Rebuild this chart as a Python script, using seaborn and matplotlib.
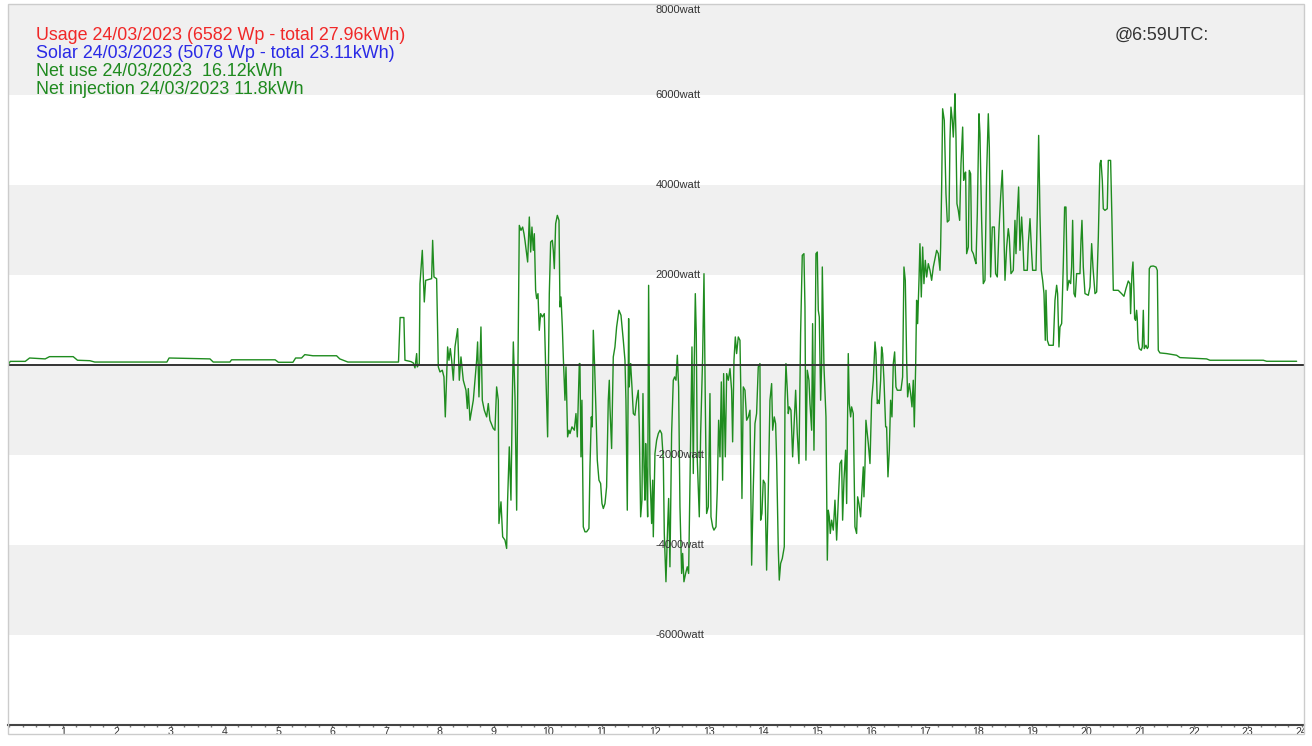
import numpy as np
import pandas as pd
import matplotlib
matplotlib.use("Agg")
import matplotlib.pyplot as plt
from matplotlib.patches import Rectangle
from matplotlib.transforms import Bbox, TransformedBbox
import seaborn as sns

# ---------------- data (hour of day, net power in watt) ----------------
night_hours = [0.00, 0.02, 0.30, 0.38, 0.67, 0.75, 1.19, 1.27, 1.50, 1.59, 2.93, 2.97,
               3.73, 3.79, 4.10, 4.13, 4.94, 5.00, 5.27, 5.32, 5.43, 5.49, 5.64, 6.08,
               6.14, 6.29, 7.23, 7.26, 7.33, 7.35, 7.46]
night_watts = [30, 75, 75, 150, 130, 180, 180, 100, 90, 60, 60, 150,
               130, 60, 60, 110, 110, 55, 55, 150, 150, 225, 200, 200,
               130, 60, 60, 1050, 1050, 100, 70]

morning_hours = [7.505, 7.536, 7.567, 7.579, 7.616, 7.629, 7.672, 7.709, 7.734, 7.845, 7.864,
                 7.889, 7.938, 7.969, 8.000, 8.043, 8.074, 8.099, 8.142, 8.167, 8.192, 8.217,
                 8.248, 8.279, 8.328, 8.359, 8.390, 8.433, 8.483, 8.508, 8.526, 8.557, 8.619,
                 8.681, 8.699, 8.724, 8.761, 8.786, 8.823, 8.867, 8.897, 8.928, 8.990, 9.021,
                 9.052, 9.083, 9.095, 9.133, 9.164, 9.207, 9.238, 9.256, 9.287, 9.318, 9.343,
                 9.362, 9.393, 9.424, 9.442, 9.473, 9.504, 9.535, 9.560, 9.578, 9.609, 9.628,
                 9.659, 9.684, 9.708, 9.733, 9.752, 9.776, 9.795, 9.820, 9.844, 9.869, 9.900,
                 9.937, 9.962, 9.999, 10.030, 10.055, 10.086, 10.104, 10.123, 10.148, 10.179,
                 10.210, 10.228, 10.247, 10.272, 10.290, 10.321, 10.340, 10.370, 10.395, 10.414,
                 10.451, 10.494, 10.525, 10.550, 10.587]
morning_watts = [40, -70, 248, -48, 26, 1803, 2544, 1396, 1877, 1914, 2766,
                 1951, 1914, -48, -160, -122, -271, -1160, 396, 100, 359, 100,
                 -345, 396, 803, -345, 174, -345, -567, -974, -530, -1234, -789,
                 100, 507, -715, 840, -789, -1011, -1160, -863, -1234, -1419, -1456,
                 -493, -789, -3530, -3048, -3826, -3900, -4085, -3011, -1826, -3011, -789,
                 507, -715, -3234, -789, 3099, 2988, 3062, 2914, 2766, 2470, 2285,
                 3285, 2507, 3062, 2544, 2914, 1655, 1470, 1581, 766, 1137, 1063,
                 1137, -48, -1604, 1581, 2729, 2766, 2544, 2137, 3137, 3322,
                 3211, 1285, 1507, 840, 174, -789, -48, -1604, -1456, -1530,
                 -1382, -1456, -1086, -1604, 26]

midday_hours = [10.599, 10.618, 10.636, 10.661, 10.692, 10.723, 10.766, 10.785, 10.810, 10.828,
                10.847, 10.872, 10.896, 10.921, 10.952, 10.983, 11.008, 11.033, 11.064, 11.094,
                11.125, 11.144, 11.156, 11.187, 11.218, 11.249, 11.280, 11.323, 11.361, 11.404,
                11.435, 11.453, 11.478, 11.503, 11.515, 11.528, 11.540, 11.565, 11.590, 11.620,
                11.651, 11.682, 11.701, 11.726, 11.750, 11.769, 11.788, 11.806, 11.819, 11.837,
                11.856, 11.874, 11.887, 11.899, 11.930, 11.949, 11.961, 11.992, 12.023, 12.054,
                12.085, 12.116, 12.147, 12.165, 12.196, 12.227, 12.246, 12.270, 12.301, 12.332,
                12.357, 12.382, 12.407, 12.431, 12.456, 12.487, 12.506, 12.530, 12.561, 12.592,
                12.617, 12.654, 12.679, 12.704, 12.722, 12.741, 12.759, 12.778, 12.815, 12.840,
                12.877, 12.902, 12.926, 12.951, 12.982, 13.013, 13.032, 13.063, 13.087, 13.125,
                13.149, 13.174, 13.199, 13.224, 13.248, 13.267, 13.298, 13.323, 13.354, 13.385,
                13.415, 13.434, 13.459, 13.484, 13.508, 13.539, 13.570, 13.589, 13.607, 13.632,
                13.663, 13.694, 13.725, 13.756, 13.787, 13.818, 13.849, 13.879, 13.910, 13.941]
midday_watts = [26, -2048, -789, -3604, -3715, -3715, -3641, -2271, -1160, -1382,
                766, -48, -1011, -2122, -2567, -2641, -3086, -3197, -3086, -2715,
                -789, -345, -937, -1863, 174, 396, 840, 1211, 1100, 544,
                100, -789, -3234, 1026, -493, -122, 26, -493, -1086, -1123,
                -789, -567, -1382, -3382, -3011, -641, -2271, -3011, -1752, -2493,
                -3382, 1766, -493, -2419, -3530, -2567, -3826, -1974, -1678, -1530,
                -1456, -1530, -2122, -3752, -4826, -3604, -2974, -4493, -1530, -345,
                -271, -345, 211, -493, -3160, -4641, -4196, -4826, -4641, -4493,
                -4641, -1678, 396, -2419, 100, 1581, 692, -2122, -3382, -1530,
                174, 2025, -789, -3308, -3160, -641, -3382, -3604, -3678, -3604,
                -2789, -1234, -2048, -382, -2567, -197, -2048, -197, -345, -86,
                -567, -1715, 100, 618, 248, 618, 544, -789, -2974, -493,
                -567, -1234, -1160, -1011, -4456, -2715, -1308, -1086, -48, 26]

afternoon_hours = [13.954, 13.978, 14.003, 14.034, 14.065, 14.096, 14.127, 14.158, 14.177, 14.207,
                   14.232, 14.251, 14.282, 14.300, 14.325, 14.356, 14.393, 14.406, 14.424, 14.449,
                   14.467, 14.486, 14.517, 14.548, 14.573, 14.604, 14.634, 14.665, 14.696, 14.727,
                   14.758, 14.777, 14.795, 14.820, 14.851, 14.870, 14.901, 14.919, 14.944, 14.963,
                   14.981, 15.006, 15.024, 15.043, 15.068, 15.086, 15.099, 15.130, 15.167, 15.192,
                   15.210, 15.229, 15.247, 15.272, 15.303, 15.334, 15.365, 15.396, 15.427, 15.458,
                   15.476, 15.501, 15.532, 15.551, 15.581, 15.600, 15.625, 15.643, 15.674, 15.705,
                   15.736, 15.755, 15.779, 15.810, 15.829, 15.860, 15.872, 15.891, 15.909, 15.934,
                   15.953, 15.984, 16.015, 16.046, 16.077, 16.095, 16.120, 16.138, 16.157, 16.182,
                   16.200, 16.219, 16.244, 16.275, 16.293, 16.318, 16.343, 16.367, 16.392, 16.417,
                   16.442, 16.466, 16.491, 16.522, 16.559, 16.590, 16.615, 16.640, 16.665, 16.683,
                   16.714, 16.739, 16.764, 16.788, 16.807, 16.832, 16.850, 16.869, 16.894, 16.912,
                   16.937, 16.962, 16.986, 17.011, 17.036, 17.067, 17.098, 17.129, 17.160, 17.191,
                   17.222, 17.253, 17.284]
afternoon_watts = [-3456, -3308, -2567, -2641, -4567, -2789, -789, -419, -1456, -1160,
                   -1308, -2122, -4122, -4789, -4419, -4308, -4048, -789, 26, -567,
                   -1086, -937, -1011, -2048, -1382, -567, -1530, -2197, 692, 2433,
                   2470, 1285, -2122, -122, -345, -863, -1456, 914, -1900, -48,
                   2470, 2507, 1211, 1063, -789, -48, 2174, -48, -1160, -4345,
                   -3234, -3382, -3752, -3456, -3678, -3011, -3900, -3011, -2197, -2122,
                   -3456, -2567, -1900, -3086, 248, -863, -1160, -937, -1086, -3604,
                   -3752, -2937, -3086, -3382, -2937, -2271, -2937, -2271, -1234, -1530,
                   -1752, -2197, -789, -345, 507, 248, -863, -789, -863, -345,
                   396, 248, -345, -1382, -1382, -2493, -1900, -789, -1160, 26,
                   285, -493, -567, -567, -567, -271, 2174, 1877, 100, -715,
                   -419, -641, -937, -345, -1382, -48, 1433, 914, 1877, 2692,
                   1507, 2618, 1803, 2322, 1951, 2248, 2100, 1877, 2174, 2359,
                   2544, 2470, 2100]

evening_hours = [17.296, 17.315, 17.333, 17.364, 17.395, 17.420, 17.451, 17.469, 17.488, 17.513,
                 17.531, 17.550, 17.562, 17.581, 17.599, 17.624, 17.649, 17.674, 17.705, 17.723,
                 17.742, 17.760, 17.779, 17.810, 17.828, 17.853, 17.872, 17.903, 17.934, 17.952,
                 17.977, 18.008, 18.026, 18.057, 18.088, 18.119, 18.150, 18.181, 18.200, 18.224,
                 18.255, 18.293, 18.317, 18.348, 18.379, 18.410, 18.441, 18.460, 18.491, 18.522,
                 18.552, 18.571, 18.602, 18.645, 18.676, 18.695, 18.720, 18.744, 18.769, 18.800,
                 18.819, 18.843, 18.874, 18.905, 18.924, 18.955, 18.986, 19.004, 19.035, 19.066,
                 19.091, 19.116, 19.140, 19.165, 19.190, 19.215, 19.239, 19.252, 19.277, 19.307,
                 19.345, 19.388, 19.419, 19.450, 19.468, 19.493, 19.512, 19.543, 19.574, 19.598,
                 19.623, 19.648, 19.679, 19.710, 19.728, 19.747, 19.772, 19.796, 19.821, 19.852,
                 19.883, 19.902, 19.920, 19.945, 19.976, 20.038, 20.069, 20.100, 20.124, 20.162,
                 20.193, 20.224, 20.254, 20.273, 20.298, 20.316, 20.347, 20.390, 20.409, 20.452,
                 20.477, 20.502]
evening_watts = [2618, 3952, 5692, 5433, 3804, 3174, 3211, 4989, 5729, 5433,
                 5063, 5581, 6026, 5063, 3581, 3433, 3211, 4470, 5285, 4100,
                 4248, 4285, 2470, 2618, 4322, 4248, 2544, 2470, 2322, 2248,
                 3359, 5581, 5137, 3211, 1804, 1878, 4248, 5581, 4841, 1952,
                 3063, 3063, 2026, 1952, 2989, 3730, 4322, 3507, 1878, 2618,
                 3026, 2841, 2026, 2100, 3211, 2470, 3359, 3952, 2544, 3285,
                 2841, 2100, 2100, 2100, 2693, 3248, 2470, 2100, 2100, 2100,
                 3359, 5100, 3359, 2100, 1878, 1582, 544, 1656, 544, 433,
                 433, 433, 1433, 1767, 1582, 396, 841, 915, 2248, 3507,
                 3507, 1656, 1878, 1804, 2174, 3211, 1582, 1508, 2026, 2026,
                 2026, 2767, 3211, 2174, 1582, 1545, 1730, 2693, 2174, 1582,
                 1619, 2841, 4470, 4544, 4100, 3470, 3433, 3470, 4544, 4544,
                 3211, 1656]

late_hours = [20.594, 20.656, 20.700, 20.737, 20.780, 20.811, 20.823, 20.848, 20.867, 20.885,
              20.898, 20.916, 20.935, 20.947, 20.960, 20.984, 21.021, 21.040, 21.059, 21.077,
              21.108, 21.133, 21.151, 21.170, 21.195, 21.244, 21.294, 21.319, 21.337, 21.368,
              21.492, 21.677, 21.739, 21.863, 22.111, 22.234, 22.296, 22.730, 23.287, 23.349,
              23.906]
late_watts = [1655, 1581, 1522, 1692, 1862, 1803, 1136, 2025, 2285, 1655,
              1025, 988, 1211, 1025, 544, 359, 322, 396, 1211, 359,
              433, 359, 396, 2136, 2188, 2196, 2173, 2099, 322, 263,
              248, 211, 159, 152, 137, 130, 100, 100, 100, 77,
              77]

y_levels = [8000, 6000, 4000, 2000, -2000, -4000, -6000]
hour_labels = [str(h) for h in range(1, 25)]

legend_lines = [
    ("Usage 24/03/2023 (6582 Wp - total 27.96kWh)", "#f02828"),
    ("Solar 24/03/2023 (5078 Wp - total 23.11kWh)", "#2a2ae6"),
    ("Net use 24/03/2023  16.12kWh", "#1f8a1f"),
    ("Net injection 24/03/2023 11.8kWh", "#1f8a1f"),
]
stamp_text = "@6:59UTC:"

df = pd.DataFrame({
    "hour": night_hours + morning_hours + midday_hours + afternoon_hours + evening_hours + late_hours,
    "watt": night_watts + morning_watts + midday_watts + afternoon_watts + evening_watts + late_watts,
})

# ---------------- figure ----------------
sns.set_theme(style="white")
plt.rcParams["font.family"] = ["Liberation Sans", "DejaVu Sans"]

W, H = 1312, 746
fig = plt.figure(figsize=(W / 100, H / 100), dpi=100)
fig.patch.set_facecolor("white")
ax_bottom_px = 724.5
ax = fig.add_axes([8 / W, 1 - ax_bottom_px / H, (1304 - 8) / W, (ax_bottom_px - 4) / H])
ax.set_facecolor("white")

px_per_hour = 53.86
ax.set_xlim(-(9.1 - 8) / px_per_hour, 24 + (1304 - 1301.7) / px_per_hour)
ax.set_ylim(-8000, 8022)

# alternating horizontal bands
for lo, hi in [(6000, 8100), (2000, 4000), (-2000, 0), (-6000, -4000)]:
    ax.axhspan(lo, hi, color="#f0f0f0", lw=0, zorder=0)

sns.lineplot(data=df, x="hour", y="watt", ax=ax, color="#1f8c1f", lw=1.0,
             estimator=None, sort=False, zorder=3)
ax.axhline(0, color="#333333", lw=1.4, zorder=4)

# y level labels inside plot
for lv in y_levels:
    ax.text(12.0, lv, f"{lv}watt", ha="left", va="top" if lv == 8000 else "center",
            fontsize=8, color="#333333", zorder=5)

# spines
for s in ["left", "right", "top"]:
    ax.spines[s].set_visible(False)
ax.spines["bottom"].set_color("#444444")
ax.spines["bottom"].set_linewidth(1.5)

ax.set_yticks([])
ax.set_xticks(range(0, 25))
ax.set_xticklabels([""] + hour_labels)
ax.set_xticks(np.arange(0, 24.01, 0.25), minor=True)
ax.tick_params(axis="x", which="both", direction="out", length=1.5, width=1,
               color="#777777", labelsize=7.7, labelcolor="#333333", pad=0.2,
               bottom=True)
ax.set_xlabel("")
ax.set_ylabel("")
ax.grid(False)

# clip last tick label at the outer frame
clipbox = TransformedBbox(Bbox([[0, 0], [1304 / W, 1]]), fig.transFigure)
for lab in ax.get_xticklabels():
    lab.set_clip_box(clipbox)
    lab.set_clip_on(True)

# outer light border
fig.patches.append(Rectangle((8 / W, 1 - 733.5 / H), (1304 - 8) / W, (733.5 - 4) / H,
                             transform=fig.transFigure, fill=False,
                             edgecolor="#cccccc", lw=1, zorder=10))

# header texts
baselines = [39.5, 58, 76, 94]
for (txt, col), yb in zip(legend_lines, baselines):
    fig.text(36 / W, 1 - yb / H, txt, color=col, fontsize=12.9, ha="left", va="baseline")
fig.text(1115 / W, 1 - 40 / H, stamp_text, color="#333333", fontsize=12.9,
         ha="left", va="baseline")

fig.savefig("out.png", dpi=100, facecolor="white")
